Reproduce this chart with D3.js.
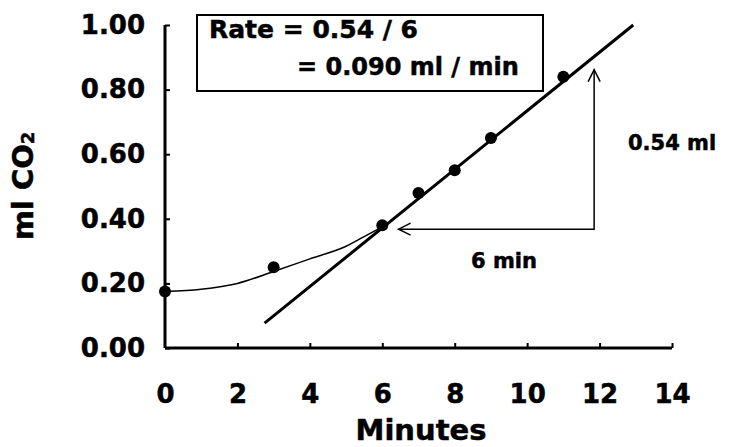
<!DOCTYPE html>
<html>
<head>
  <meta charset="utf-8">
  <title>CO2 rate</title>
  <style>
  body { margin: 0; background: #fff; }
  svg text { font-family: "DejaVu Sans", sans-serif; font-weight: bold; fill: #000; stroke: #000; stroke-width: 0.5px; }
  </style>
</head>
<body>
  <svg width="733" height="447"></svg>
  <script src="https://d3js.org/d3.v7.min.js"></script>
  <script>
  // measured points
  var minutes = [0, 3, 6, 7, 8, 9, 11];
  var co2 = [0.175, 0.25, 0.38, 0.48, 0.55, 0.65, 0.84];

  // hand drawn curve through the early points
  var curveX = [0, 1, 2, 3, 4, 5, 5.5, 6];
  var curveY = [0.175, 0.182, 0.2, 0.237, 0.276, 0.315, 0.345, 0.375];

  // straight line fitted to the linear part
  var fitX = [2.75, 12.93];
  var fitY = [0.077, 1.0];

  // axis ticks
  var xTicks = [0, 2, 4, 6, 8, 10, 12, 14];
  var yTicks = [0, 0.2, 0.4, 0.6, 0.8, 1.0];

  var svg = d3.select("svg");

  var x = d3.scaleLinear().domain([0, 14]).range([165, 672]);
  var y = d3.scaleLinear().domain([0, 1]).range([348, 25]);

  // y axis
  var yAxis = svg.append("g")
    .attr("transform", "translate(" + x(0) + ",0)")
    .call(d3.axisRight(y).tickValues(yTicks).tickSize(5).tickFormat(""));
  yAxis.select(".domain").attr("stroke-width", 3).attr("d", "M0," + y(0) + "V" + y(1));
  yAxis.selectAll(".tick line").attr("stroke-width", 2);

  svg.append("g")
    .attr("transform", "translate(145,0)")
    .call(d3.axisLeft(y).tickValues(yTicks).tickSize(0).tickFormat(d3.format(".2f")))
    .call(function(g) { g.select(".domain").remove(); })
    .selectAll("text")
    .attr("x", 0)
    .style("font-size", "26px")
    .style("font-family", "DejaVu Sans")
    .style("font-weight", "bold");

  // x axis
  var xAxis = svg.append("g")
    .attr("transform", "translate(0," + y(0) + ")")
    .call(d3.axisTop(x).tickValues(xTicks.slice(1)).tickSize(5).tickFormat(""));
  xAxis.select(".domain").attr("stroke-width", 3).attr("d", "M" + x(0) + ",0H" + x(14));
  xAxis.selectAll(".tick line").attr("stroke-width", 2);

  svg.append("g")
    .attr("transform", "translate(0,385)")
    .call(d3.axisBottom(x).tickValues(xTicks).tickSize(0).tickFormat(d3.format("d")))
    .call(function(g) { g.select(".domain").remove(); })
    .selectAll("text")
    .attr("y", 0)
    .attr("dy", "0.71em")
    .style("font-size", "26px")
    .style("font-family", "DejaVu Sans")
    .style("font-weight", "bold");

  // axis titles
  svg.append("text")
    .attr("x", 421)
    .attr("y", 440)
    .attr("text-anchor", "middle")
    .style("font-size", "29px")
    .text("Minutes");

  var yt = svg.append("text")
    .attr("transform", "translate(33,186) rotate(-90)")
    .attr("text-anchor", "middle")
    .style("font-size", "29px");
  yt.append("tspan").text("ml CO");
  yt.append("tspan").attr("dy", 1).style("font-size", "18px").text("2");

  // thin curve
  var pts = curveX.map(function(d, i) { return [d, curveY[i]]; });
  svg.append("path")
    .datum(pts)
    .attr("fill", "none")
    .attr("stroke", "#000")
    .attr("stroke-width", 1.5)
    .attr("d", d3.line()
      .curve(d3.curveMonotoneX)
      .x(function(d) { return x(d[0]); })
      .y(function(d) { return y(d[1]); }));

  // fitted line
  svg.append("path")
    .datum(fitX.map(function(d, i) { return [d, fitY[i]]; }))
    .attr("fill", "none")
    .attr("stroke", "#000")
    .attr("stroke-width", 3)
    .attr("d", d3.line()
      .x(function(d) { return x(d[0]); })
      .y(function(d) { return y(d[1]); }));

  // data points
  svg.selectAll(".dot")
    .data(minutes)
    .enter().append("circle")
    .attr("class", "dot")
    .attr("cx", function(d) { return x(d); })
    .attr("cy", function(d, i) { return y(co2[i]); })
    .attr("r", 6)
    .attr("fill", "#000");

  // rise / run arrows
  var cornerX = 11.85, cornerY = 0.368, runEnd = 6.45, riseEnd = 0.862;
  svg.append("path")
    .attr("fill", "none")
    .attr("stroke", "#000")
    .attr("stroke-width", 1.5)
    .attr("d", "M" + x(runEnd) + "," + y(cornerY) + "H" + x(cornerX) + "V" + y(riseEnd));
  // arrow heads
  svg.append("path")
    .attr("fill", "none")
    .attr("stroke", "#000")
    .attr("stroke-width", 1.5)
    .attr("d", "M" + (x(runEnd) + 12) + "," + (y(cornerY) - 6) + "L" + x(runEnd) + "," + y(cornerY) +
               "L" + (x(runEnd) + 12) + "," + (y(cornerY) + 6));
  svg.append("path")
    .attr("fill", "none")
    .attr("stroke", "#000")
    .attr("stroke-width", 1.5)
    .attr("d", "M" + (x(cornerX) - 6) + "," + (y(riseEnd) + 12) + "L" + x(cornerX) + "," + y(riseEnd) +
               "L" + (x(cornerX) + 6) + "," + (y(riseEnd) + 12));

  svg.append("text")
    .attr("x", 504)
    .attr("y", 268)
    .attr("text-anchor", "middle")
    .style("font-size", "21px")
    .text("6 min");

  svg.append("text")
    .attr("x", 628)
    .attr("y", 150)
    .style("font-size", "21px")
    .text("0.54 ml");

  // rate box
  svg.append("rect")
    .attr("x", 197)
    .attr("y", 15)
    .attr("width", 346)
    .attr("height", 76)
    .attr("fill", "#fff")
    .attr("stroke", "#000")
    .attr("stroke-width", 2);

  svg.append("text")
    .attr("x", 209)
    .attr("y", 38)
    .style("font-size", "25px")
    .text("Rate = 0.54 / 6");

  svg.append("text")
    .attr("x", 297)
    .attr("y", 75)
    .style("font-size", "24px")
    .text("= 0.090 ml / min");
  </script>
</body>
</html>
